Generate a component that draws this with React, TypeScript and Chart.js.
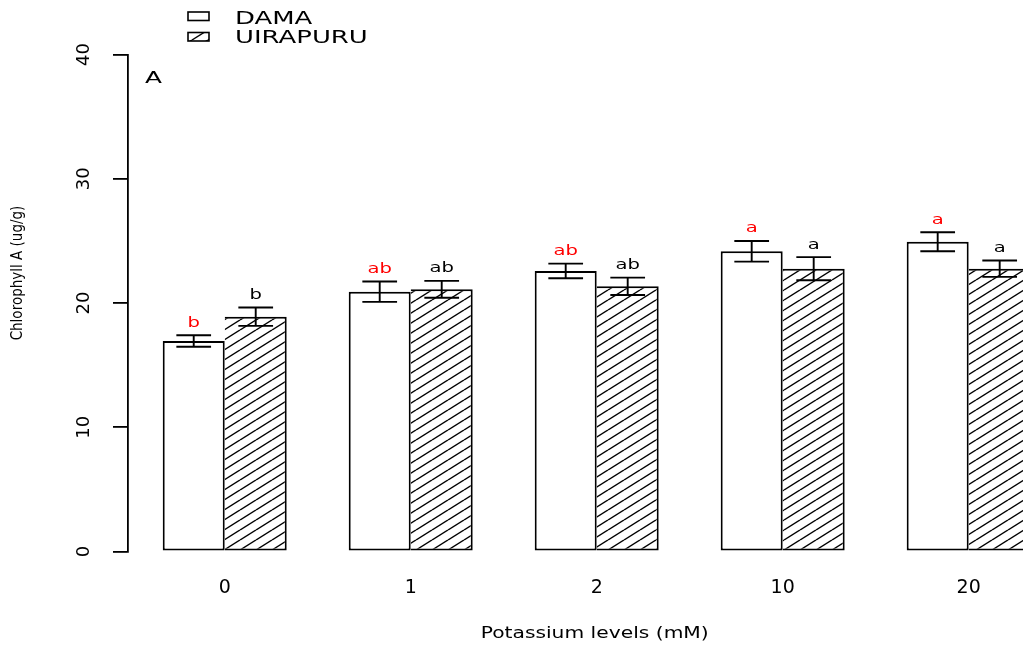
import React, { useEffect, useRef } from 'react';
import { Chart, registerables } from 'chart.js';

Chart.register(...registerables);

// Potassium treatment levels (mM) and chlorophyll A means ± standard error
const potassiumLevels = ['0', '1', '2', '10', '20'];
const damaMeans = [16.94, 20.91, 22.58, 24.16, 24.93];
const damaErrors = [0.46, 0.82, 0.59, 0.83, 0.76];
const damaLetters = ['b', 'ab', 'ab', 'a', 'a'];
const uirapuruMeans = [18.9, 21.1, 21.34, 22.76, 22.76];
const uirapuruErrors = [0.74, 0.68, 0.7, 0.93, 0.66];
const uirapuruLetters = ['b', 'ab', 'ab', 'a', 'a'];
const yMin = 0;
const yMax = 40;
const yStep = 10;

const FONT = '"DejaVu Sans", "Liberation Sans", sans-serif';

// barplot-style layout: two unit-wide bars per group, one unit of space before each group
const groupCenter = (i: number) => 3 * i + 2;
const xSpan = potassiumLevels.length * 3 - 1;
const xMin = 1 - 0.04 * xSpan;
const xMax = 1 + xSpan + 0.04 * xSpan;

const CANVAS_W = 1100;
const CANVAS_H = 647;

function makeHatch(): CanvasPattern | string {
  const tile = document.createElement('canvas');
  tile.width = 16;
  tile.height = 10;
  const c = tile.getContext('2d');
  if (!c) return '#fff';
  c.fillStyle = '#fff';
  c.fillRect(0, 0, 16, 10);
  c.strokeStyle = '#000';
  c.lineWidth = 1.4;
  for (const k of [-1, 0, 1]) {
    c.beginPath();
    c.moveTo(0, 10 + k * 10);
    c.lineTo(16, k * 10);
    c.stroke();
  }
  return c.createPattern(tile, 'repeat') || '#fff';
}

function stretchedText(
  ctx: CanvasRenderingContext2D,
  text: string,
  x: number,
  y: number,
  size: number,
  sx: number,
  align: CanvasTextAlign,
  color = '#000'
) {
  ctx.save();
  ctx.translate(x, y);
  ctx.scale(sx, 1);
  ctx.font = `${size}px ${FONT}`;
  ctx.fillStyle = color;
  ctx.textAlign = align;
  ctx.textBaseline = 'alphabetic';
  ctx.fillText(text, 0, 0);
  ctx.restore();
}

export default function App() {
  const canvasRef = useRef<HTMLCanvasElement | null>(null);

  useEffect(() => {
    const canvas = canvasRef.current;
    if (!canvas) return;
    const hatch = makeHatch();

    const series = [
      { label: 'DAMA', means: damaMeans, errors: damaErrors, letters: damaLetters, letterColor: '#ff0000' },
      { label: 'UIRAPURU', means: uirapuruMeans, errors: uirapuruErrors, letters: uirapuruLetters, letterColor: '#000000' },
    ];

    const errorBars = {
      id: 'errorBars',
      afterDatasetsDraw(chart: any) {
        const { ctx } = chart;
        const y = chart.scales.y;
        series.forEach((s, di) => {
          const meta = chart.getDatasetMeta(di);
          meta.data.forEach((bar: any, i: number) => {
            const top = y.getPixelForValue(s.means[i] + s.errors[i]);
            const bottom = y.getPixelForValue(s.means[i] - s.errors[i]);
            const half = bar.width * 0.28;
            ctx.save();
            ctx.strokeStyle = '#000';
            ctx.lineWidth = 1.9;
            ctx.beginPath();
            ctx.moveTo(bar.x, top);
            ctx.lineTo(bar.x, bottom);
            ctx.moveTo(bar.x - half, top);
            ctx.lineTo(bar.x + half, top);
            ctx.moveTo(bar.x - half, bottom);
            ctx.lineTo(bar.x + half, bottom);
            ctx.stroke();
            ctx.restore();
            stretchedText(ctx, s.letters[i], bar.x, top - 8.5, 14.5, 1.35, 'center', s.letterColor);
          });
        });
      },
    };

    const annotations = {
      id: 'annotations',
      afterDraw(chart: any) {
        const { ctx, chartArea } = chart;
        // legend
        const boxes = [
          { label: 'DAMA', fill: '#fff' as any, top: 12, base: 24.3 },
          { label: 'UIRAPURU', fill: hatch as any, top: 32.5, base: 43.3 },
        ];
        boxes.forEach((b) => {
          ctx.save();
          ctx.fillStyle = b.fill;
          ctx.fillRect(188, b.top, 21, 8.5);
          ctx.strokeStyle = '#000';
          ctx.lineWidth = 1.6;
          ctx.strokeRect(188, b.top, 21, 8.5);
          ctx.restore();
          stretchedText(ctx, b.label, 235, b.base, 17.5, 1.48, 'left');
        });
        // panel letter
        stretchedText(ctx, 'A', 145, 83.3, 16, 1.55, 'left');
        // x axis title
        stretchedText(ctx, 'Potassium levels (mM)', (chartArea.left + chartArea.right) / 2 - 2, 638, 15, 1.35, 'center');
        // y axis title
        ctx.save();
        ctx.translate(18, 273);
        ctx.rotate(-Math.PI / 2);
        ctx.scale(1, 1.15);
        ctx.font = `13.5px ${FONT}`;
        ctx.fillStyle = '#000';
        ctx.textAlign = 'center';
        ctx.textBaseline = 'middle';
        ctx.fillText('Chlorophyll A (ug/g)', 0, 0);
        ctx.restore();
      },
    };

    const chart = new Chart(canvas, {
      type: 'bar',
      data: {
        datasets: [
          {
            label: 'DAMA',
            data: damaMeans.map((v, i) => ({ x: groupCenter(i), y: v })),
            backgroundColor: '#ffffff',
            borderColor: '#000000',
            borderWidth: { top: 2, left: 2, bottom: 2, right: 2 },
            borderSkipped: false,
          },
          {
            label: 'UIRAPURU',
            data: uirapuruMeans.map((v, i) => ({ x: groupCenter(i), y: v })),
            backgroundColor: hatch as any,
            borderColor: '#000000',
            borderWidth: { top: 2, left: 0, bottom: 2, right: 2 },
            borderSkipped: false,
          },
        ],
      },
      options: {
        responsive: false,
        animation: false,
        events: [],
        categoryPercentage: 2 / 3,
        barPercentage: 1,
        layout: { padding: { top: 54.5, right: CANVAS_W - 1065.4, bottom: 0, left: 0 } },
        plugins: { legend: { display: false }, tooltip: { enabled: false } },
        scales: {
          x: {
            type: 'linear',
            min: xMin,
            max: xMax,
            offset: false,
            afterBuildTicks: (scale: any) => {
              scale.ticks = potassiumLevels.map((_, i) => ({ value: groupCenter(i) }));
            },
            afterFit: (scale: any) => {
              scale.height = CANVAS_H - 551.5;
            },
            ticks: {
              autoSkip: false,
              maxRotation: 0,
              padding: 25,
              color: '#000',
              font: { family: FONT, size: 19 },
              callback: (_v: any, i: number) => potassiumLevels[i],
            },
            grid: { display: false, drawTicks: false },
            border: { display: false },
          },
          y: {
            type: 'linear',
            min: yMin,
            max: yMax,
            afterFit: (scale: any) => {
              scale.width = 128;
            },
            ticks: {
              stepSize: yStep,
              minRotation: 90,
              crossAlign: 'center',
              padding: 17,
              color: '#000',
              font: { family: FONT, size: 18 },
            },
            grid: { drawOnChartArea: false, tickLength: 15, color: '#000', lineWidth: 1.8 },
            border: { display: true, color: '#000', width: 1.8 },
          },
        } as any,
      },
      plugins: [errorBars, annotations],
    });

    return () => chart.destroy();
  }, []);

  return (
    <div
      style={{
        position: 'fixed',
        left: 0,
        top: 0,
        width: 1023,
        height: 647,
        overflow: 'hidden',
        background: '#fff',
      }}
    >
      <canvas ref={canvasRef} width={CANVAS_W} height={CANVAS_H} style={{ display: 'block' }} />
    </div>
  );
}
